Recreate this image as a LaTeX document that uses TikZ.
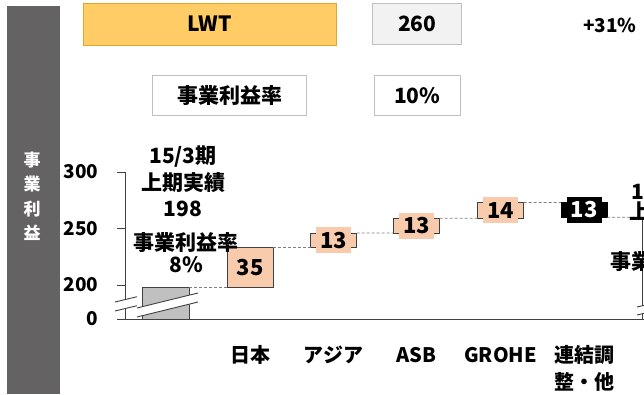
\documentclass[tikz,border=0pt]{standalone}
\usepackage{fontspec}
\setmainfont{Noto Sans CJK JP}
\usetikzlibrary{positioning}
\definecolor{panelgray}{HTML}{656263}
\definecolor{lwtgold}{HTML}{FFCC66}
\definecolor{lwtedge}{HTML}{DDA829}
\definecolor{boxgray}{HTML}{F2F2F2}
\definecolor{boxedge}{HTML}{BFBFBF}
\definecolor{peach}{HTML}{F8CBAD}
\definecolor{baredge}{HTML}{404040}
\definecolor{basegray}{HTML}{C0C0C0}

\begin{document}
\begin{tikzpicture}[x=1pt,y=1pt,
  bar/.style={draw=baredge,line width=0.9pt,minimum width=46pt,inner sep=0pt,outer sep=0pt},
  val/.style={fill=peach,minimum width=35pt,minimum height=26pt,inner sep=0pt,font=\fontsize{22}{24}\selectfont\bfseries},
  cat/.style={font=\fontsize{20}{27}\selectfont\bfseries,align=center},
  note/.style={font=\fontsize{21}{26.5}\selectfont\bfseries,align=center},
  ticklabel/.style={anchor=east,font=\fontsize{19}{20}\selectfont\bfseries},
  topbox/.style={draw=boxedge,line width=0.8pt,minimum height=41pt,inner sep=0pt,font=\fontsize{21}{24}\selectfont\bfseries},
  axis/.style={draw=baredge,line width=1pt},
  link/.style={draw=gray,dash pattern=on 3pt off 2pt,line width=0.8pt}]

  \useasboundingbox (0,0) rectangle (644,394);
  \clip (0,0) rectangle (644,394);

  % Seitenleiste
  \fill[panelgray] (7,0) rectangle (60,388);
  \node[font=\fontsize{17}{24.5}\selectfont\bfseries,text=white,align=center] (side) at (32,197.5) {事\\業\\利\\益};

  % Kopfzeile
  \node[topbox,fill=lwtgold,draw=lwtedge,minimum width=253pt,minimum height=42pt] (lwt) at (209.5,370) {LWT};
  \node[topbox,fill=boxgray,minimum width=89pt] (total) [right=36pt of lwt] {260};
  \node[font=\fontsize{19}{22}\selectfont\bfseries,anchor=east] (growth) at (640,369) {+31\%};
  \node[topbox,fill=white,minimum width=86pt,minimum height=40pt] (rate) [below=30pt of total] {10\%};
  \node[topbox,fill=white,minimum width=154pt,minimum height=40pt] (ratelabel) [left=67pt of rate] {事業利益率};

  % Balken
  \node[bar,fill=basegray,minimum width=47pt,minimum height=31.7pt] (base) at (165.5,90.85) {};
  \node[bar,fill=peach,minimum height=39.6pt] (jp) at (250,126.5) {};
  \node[bar,fill=peach,minimum height=14.7pt] (asia) at (333.5,153.65) {};
  \node[bar,fill=peach,minimum height=14.7pt] (asb) at (416.5,168.35) {};
  \node[bar,fill=peach,minimum height=15.8pt] (grohe) at (500.5,183.6) {};
  \node[bar,fill=black,draw=black,minimum height=14.7pt] (adj) at (584,184.15) {};
  \node[bar,minimum height=101.8pt] (fin) at (665,125.9) {};

  % Verbindungen
  \draw[link] (base.north east) -- (jp.south west);
  \draw[link] (jp.north east) -- (asia.south west);
  \draw[link] (asia.north east) -- (asb.south west);
  \draw[link] (asb.north east) -- (grohe.south west);
  \draw[link] (grohe.north east) -- (adj.north west);
  \draw[link] (adj.south east) -- (fin.north west);

  % Werte
  \node[font=\fontsize{22}{24}\selectfont\bfseries] (vjp) at (jp) {35};
  \node[val] (vasia) at (asia) {13};
  \node[val] (vasb) at (asb) {13};
  \node[val] (vgrohe) at (grohe) {14};
  \node[val,fill=black,text=white] (vadj) at (adj) {13};

  % Achse
  \draw[axis] (125,222) -- (125,75) -- (644,75);
  \foreach \y/\t in {222/300,165.5/250,109/200,75/0}{
    \draw[axis] (117,\y) -- (125,\y);
    \node[ticklabel] (t\t) at (102,\y) {\t};
  }

  % Achsenbruch
  \fill[white] (115,83) -- (137,88.3) -- (137,97.3) -- (115,92) -- cycle;
  \draw[baredge,line width=0.9pt] (115,83) -- (137,88.3) (115,92) -- (137,97.3);
  \fill[white] (137,77) -- (198,92) -- (198,101) -- (137,86) -- cycle;
  \draw[baredge,line width=0.9pt] (137,77) -- (198,92) (137,86) -- (198,101);
  \fill[white] (637,79) -- (660,84.5) -- (660,92.5) -- (637,87) -- cycle;
  \draw[baredge,line width=0.9pt] (637,79) -- (660,84.5) (637,87) -- (660,92.5);

  % Beschriftungen
  \node[note] (start) at (183,212.5) {15/3期\\上期実績\\198};
  \node[note,font=\fontsize{21}{22}\selectfont\bfseries] (startrate) at (186,141) {事業利益率\\8\%};
  \node[note] (end1) at (638,202) {1};
  \node[note,anchor=west] (end2) at (626,183) {上};
  \node[note,anchor=west] (end3) at (607,132) {事業};

  \node[cat] (cjp) at (250,39) {日本};
  \node[cat] (casia) at (333.5,39) {アジア};
  \node[cat] (casb) at (416.5,39) {ASB};
  \node[cat] (cgrohe) at (500.5,39) {GROHE};
  \node[cat] (cadj) at (584,26) {連結調\\整・他};
\end{tikzpicture}
\end{document}
